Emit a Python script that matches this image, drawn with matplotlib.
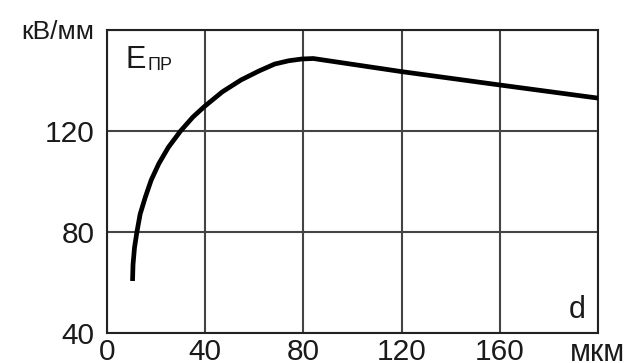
import matplotlib
matplotlib.use('Agg')
import matplotlib.pyplot as plt

d_values = [10.4, 10.6, 11.2, 12.2, 13.5, 15.6, 18, 21.1, 25, 30, 35, 39.6,
            47, 54.6, 62, 68.3, 74, 79.3, 84, 120, 160, 200]
e_values = [60.5, 67, 73.7, 80, 87, 93.7, 100.5, 107, 113.5, 120, 125.5, 129.6,
            135.5, 140.2, 143.8, 146.5, 147.8, 148.5, 148.7, 143.5, 138.2, 133]

x_ticks = [0, 40, 80, 120, 160, 200]
x_labels = ['0', '40', '80', '120', '160', 'мкм']
y_ticks = [40, 80, 120, 160]
y_labels = ['40', '80', '120', 'кВ/мм']

plt.rcParams['font.family'] = ['Liberation Sans', 'DejaVu Sans']

fig = plt.figure(figsize=(6.28, 3.63), dpi=100)
ax = fig.add_axes([107 / 628, 1 - 332.7 / 363, (598 - 107) / 628, (332.7 - 30) / 363])

ax.plot(d_values, e_values, color='black', lw=3.4, solid_capstyle='butt', zorder=3)

ax.set_xlim(0, 200)
ax.set_ylim(40, 160)
ax.set_xticks(x_ticks)
ax.set_xticklabels(x_labels)
ax.set_yticks(y_ticks)
ax.set_yticklabels(y_labels)
ax.tick_params(length=0, labelsize=21.5, colors='#1a1a1a')
ax.tick_params(axis='x', pad=4)
ax.tick_params(axis='y', pad=9)
ax.get_yticklabels()[-1].set_fontsize(19)
ax.get_xticklabels()[-1].set_fontsize(22)

ax.grid(True, color='#444444', lw=1.5)
for s in ax.spines.values():
    s.set_color('#222222')
    s.set_linewidth(1.5)

ax.text(0.037, 0.874, 'E', transform=ax.transAxes, fontsize=22, color='#1a1a1a')
ax.text(0.082, 0.868, 'ПР', transform=ax.transAxes, fontsize=13, color='#1a1a1a')
ax.text(0.941, 0.049, 'd', transform=ax.transAxes, fontsize=22, color='#1a1a1a')

fig.savefig('out.png', dpi=100)
